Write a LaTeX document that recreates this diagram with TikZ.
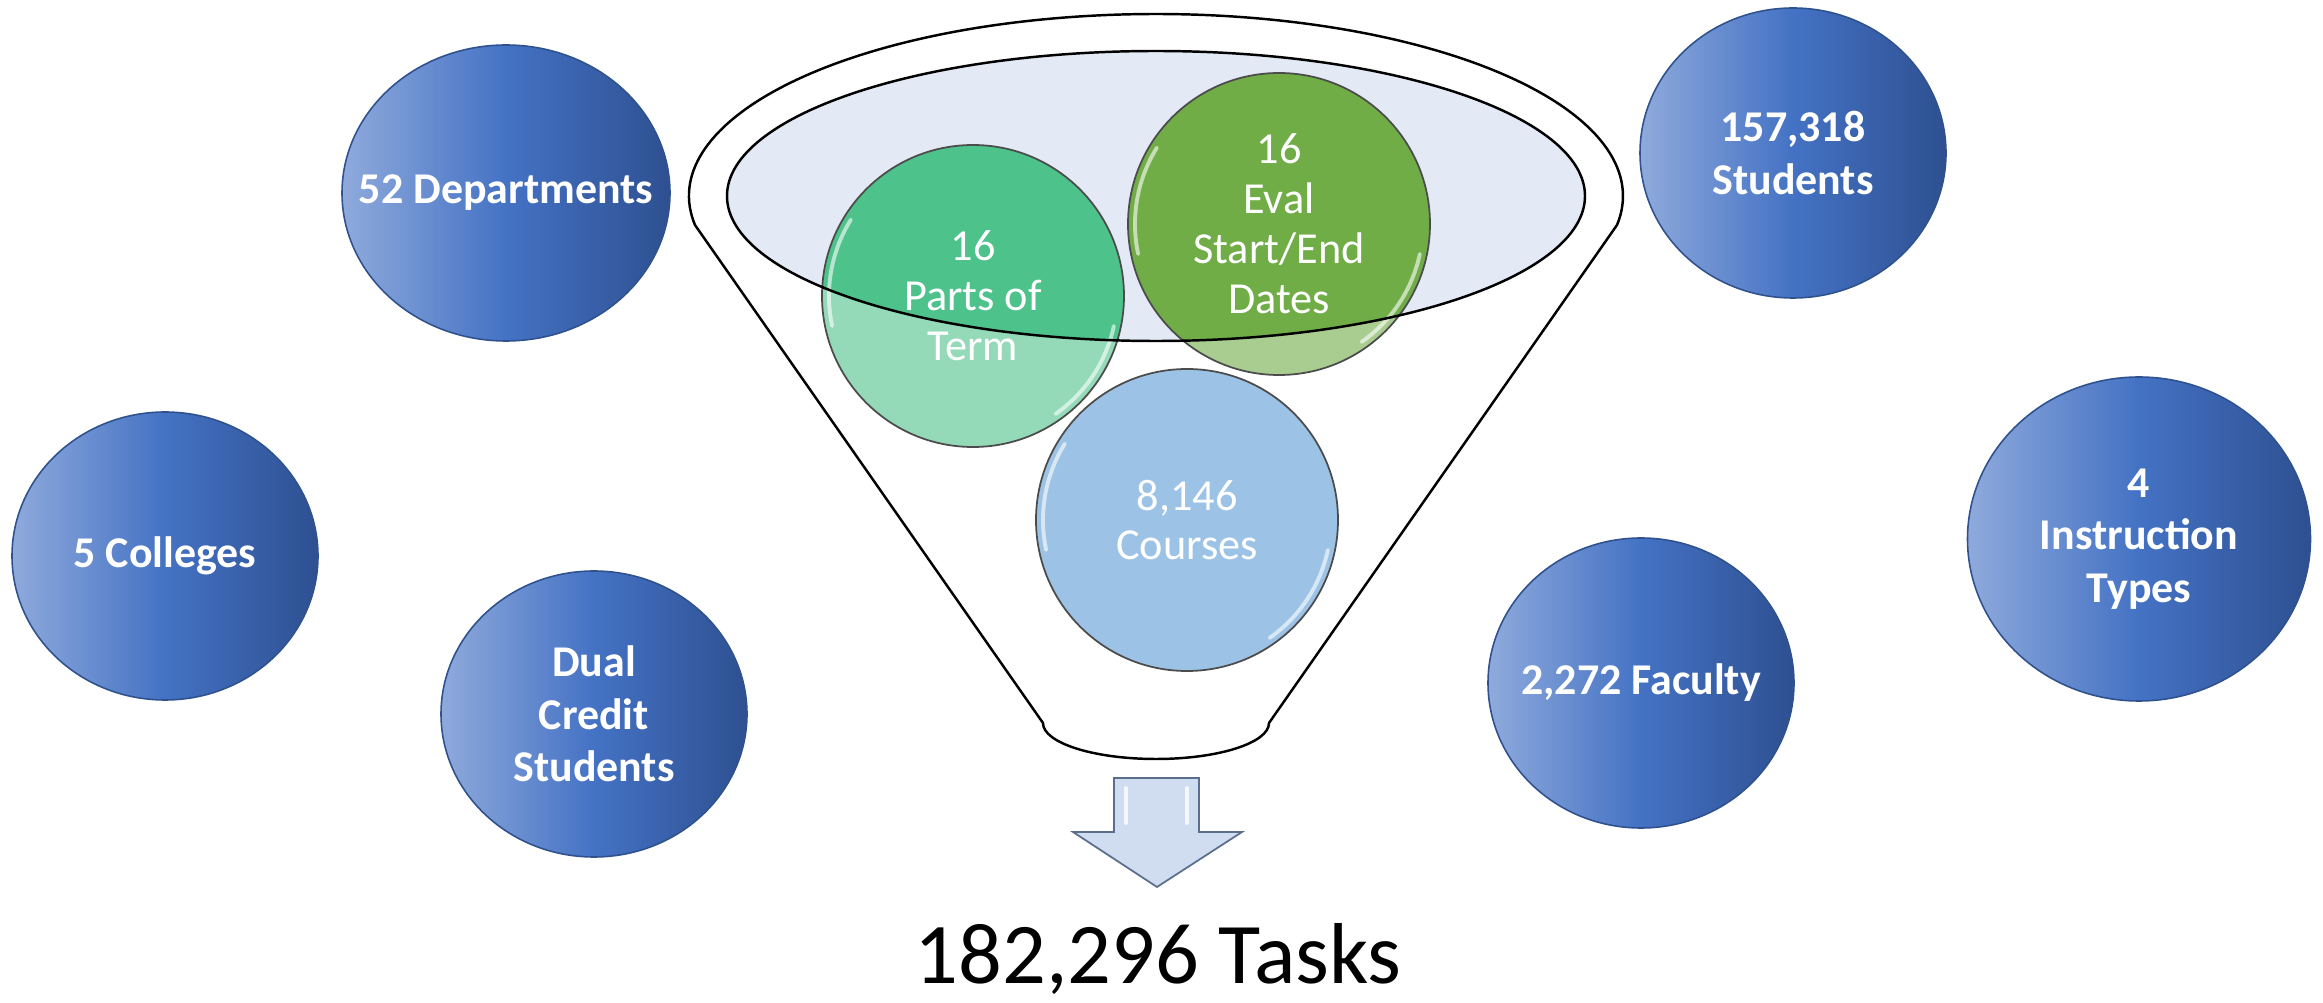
\documentclass[tikz,border=0pt]{standalone}
\usepackage{fontspec}
\setmainfont{Carlito}
\usetikzlibrary{shapes.geometric, calc}

\definecolor{balllight}{HTML}{8FAADC}
\definecolor{ballmid}{HTML}{4472C4}
\definecolor{balldark}{HTML}{2E5091}
\definecolor{ballrim}{HTML}{2F528F}
\definecolor{partsgreen}{HTML}{4DC28B}
\definecolor{evalgreen}{HTML}{70AD47}
\definecolor{coursesblue}{HTML}{5B9BD5}
\definecolor{funnelfill}{HTML}{E4EAF5}
\definecolor{chutefill}{HTML}{D0DCEF}
\definecolor{chuterim}{HTML}{5B6E8C}

\begin{document}
\begin{tikzpicture}[
            x = 0.1mm,
            y = 0.1mm,
            ball/.style = {ellipse, draw = ballrim, line width = 0.45pt,
                           left color = balllight, right color = balldark,
                           middle color = ballmid, inner sep = 0pt},
            balltext/.style = {text = white, align = center,
                               font = \fontsize{12.5}{15}\selectfont\bfseries},
            bubble/.style = {draw = black!70, line width = 0.5pt},
            bubbletext/.style = {text = white, align = center,
                                 font = \fontsize{12.6}{14.2}\selectfont},
            gloss/.style = {white, line width = 1.1pt, opacity = 0.6, line cap = round},
            rim/.style = {draw = black, line width = 0.7pt},
            chute/.style = {draw = chuterim, line width = 0.5pt, fill = chutefill}
        ]

        \useasboundingbox (0,0) rectangle (2323,1003);

        % facts around the funnel
        \node[ball, minimum width = 32.8mm, minimum height = 29.6mm] (dept) at (506,810) {};
        \node[ball, minimum width = 30.6mm, minimum height = 28.8mm] (colleges) at (165,447) {};
        \node[ball, minimum width = 30.6mm, minimum height = 28.6mm] (dual) at (594,289) {};
        \node[ball, minimum width = 30.6mm, minimum height = 29.0mm] (students) at (1793,850) {};
        \node[ball, minimum width = 34.3mm, minimum height = 32.4mm] (instr) at (2139,464) {};
        \node[ball, minimum width = 30.6mm, minimum height = 29.0mm] (faculty) at (1641,320) {};

        \node[balltext] (deptlbl) at (dept) {52 Departments};
        \node[balltext] (collegeslbl) at (colleges) {5 Colleges};
        \node[balltext] (duallbl) at (dual) {Dual\\Credit\\Students};
        \node[balltext] (studentslbl) at (students) {157,318\\Students};
        \node[balltext] (instrlbl) at (instr) {4\\Instruction\\Types};
        \node[balltext] (facultylbl) at (faculty) {2,272 Faculty};

        % funnel
        \coordinate (mouth) at (1156,807);
        \coordinate (neck) at (1156,280);
        \draw[rim, fill = white] (mouth) ++(189.17:467 and 182)
              arc[start angle = 189.17, end angle = -9.17, x radius = 467, y radius = 182]
              -- ($(neck) + (113,0)$)
              arc[start angle = 0, end angle = -180, x radius = 113, y radius = 36]
              -- cycle;
        \fill[funnelfill] (mouth) ellipse[x radius = 429, y radius = 145];

        \coordinate (courses) at (1187,483);
        \coordinate (parts) at (973,707);
        \coordinate (eval) at (1279,779);

        \fill[coursesblue, opacity = 0.6] (courses) circle[radius = 151];
        \fill[partsgreen, opacity = 0.6] (parts) circle[radius = 151];
        \fill[evalgreen, opacity = 0.6] (eval) circle[radius = 151];
        \begin{scope}
            \clip (mouth) ellipse[x radius = 429, y radius = 145];
            \fill[partsgreen] (parts) circle[radius = 151];
            \fill[evalgreen] (eval) circle[radius = 151];
        \end{scope}
        \foreach \c in {courses, parts, eval} {
            \draw[bubble] (\c) circle[radius = 151];
            \draw[gloss] (\c) ++(148:144) arc[start angle = 148, end angle = 192, radius = 144];
            \draw[gloss] (\c) ++(-12:144) arc[start angle = -12, end angle = -55, radius = 144];
        }
        \draw[rim] (mouth) ellipse[x radius = 429, y radius = 145];

        \node[bubbletext] (partslbl) at (parts) {16\\Parts of\\Term};
        \node[bubbletext] (evallbl) at (eval) {16\\Eval\\Start/End\\Dates};
        \node[bubbletext] (courseslbl) at (courses) {8,146\\Courses};

        % result
        \draw[chute] (1114,225) -- (1199,225) -- (1199,171) -- (1242,171)
                     -- (1157,116) -- (1073,171) -- (1114,171) -- cycle;
        \draw[gloss, opacity = 0.8] (1126,215) -- (1126,180);
        \draw[gloss, opacity = 0.8] (1187,215) -- (1187,180);

        \node[anchor = base, font = \fontsize{24.6}{28}\selectfont] (tasks) at (1158,20) {182,296 Tasks};
    \end{tikzpicture}
\end{document}
